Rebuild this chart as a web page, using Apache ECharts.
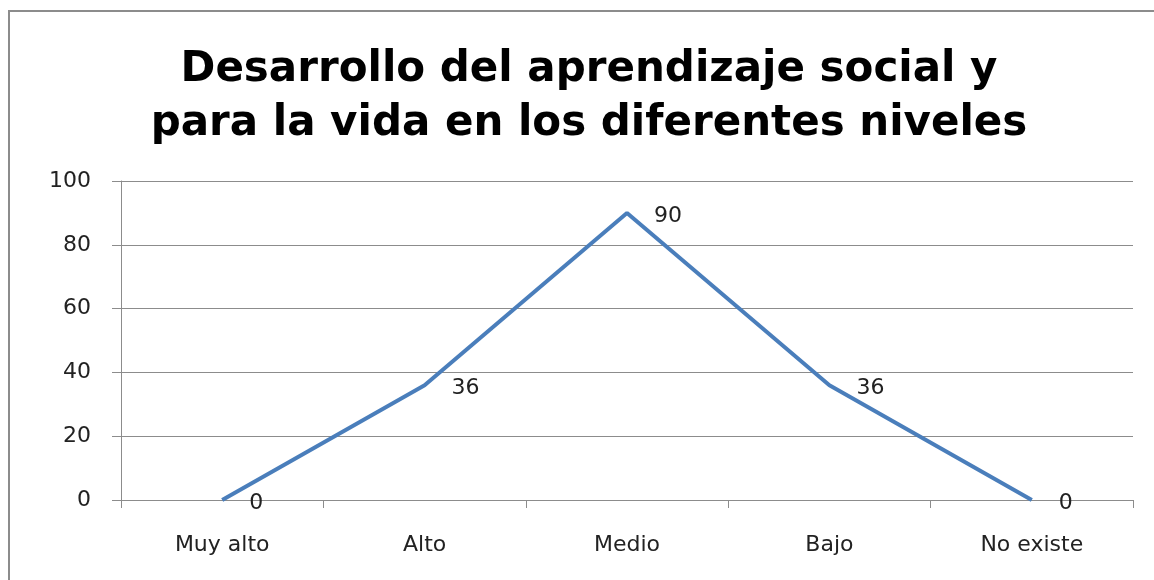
<!DOCTYPE html>
<html>
<head>
<meta charset="utf-8">
<script src="https://cdn.jsdelivr.net/npm/echarts@6/dist/echarts.min.js"></script>
<style>
  html, body { margin: 0; padding: 0; background: #fff; }
  #chart { width: 1154px; height: 580px; }
</style>
</head>
<body>
<div id="chart"></div>
<script>
  // datos
  var niveles = ['Muy alto', 'Alto', 'Medio', 'Bajo', 'No existe']
  var valores = [0, 36, 90, 36, 0]
  var yMin = 0
  var yMax = 100
  var yPaso = 20

  var font = '"DejaVu Sans", "Open Sans", sans-serif'
  var chart = echarts.init(document.getElementById('chart'))
  chart.setOption({
    animation: false,
    backgroundColor: '#ffffff',
    title: {
      text: 'Desarrollo del aprendizaje social y\npara la vida en los diferentes niveles',
      left: 584,
      top: 38,
      textAlign: 'center',
      textStyle: {
        fontFamily: font,
        fontSize: 42,
        fontWeight: 'bold',
        color: '#000000',
        lineHeight: 54
      }
    },
    graphic: [
      {
        type: 'rect',
        shape: { x: 9, y: 11, width: 1170, height: 600 },
        style: { fill: 'none', stroke: '#8c8c8c', lineWidth: 2 },
        silent: true
      }
    ],
    grid: {
      left: 121,
      right: 21,
      top: 181,
      bottom: 80
    },
    xAxis: {
      type: 'category',
      data: niveles,
      boundaryGap: true,
      axisLine: { show: true, lineStyle: { color: '#8c8c8c', width: 1 } },
      axisTick: { show: true, interval: 0, length: 8, lineStyle: { color: '#8c8c8c' } },
      axisLabel: {
        interval: 0,
        margin: 34,
        fontFamily: font,
        fontSize: 22,
        color: '#222222'
      }
    },
    yAxis: {
      type: 'value',
      min: yMin,
      max: yMax,
      interval: yPaso,
      axisLine: { show: true, lineStyle: { color: '#8c8c8c', width: 1 } },
      axisTick: { show: true, length: 9, lineStyle: { color: '#8c8c8c' } },
      splitLine: { show: true, lineStyle: { color: '#8c8c8c', width: 1 } },
      axisLabel: {
        margin: 30,
        fontFamily: font,
        fontSize: 22,
        color: '#222222'
      }
    },
    series: [
      {
        type: 'line',
        data: valores,
        showSymbol: true,
        symbol: 'circle',
        symbolSize: 2,
        itemStyle: { color: 'rgba(74,126,187,0)', borderWidth: 0 },
        lineStyle: { color: '#4a7ebb', width: 4 },
        label: {
          show: true,
          position: 'right',
          distance: 26,
          offset: [0, 3],
          fontFamily: font,
          fontSize: 22,
          color: '#222222'
        }
      }
    ]
  })
</script>
</body>
</html>
